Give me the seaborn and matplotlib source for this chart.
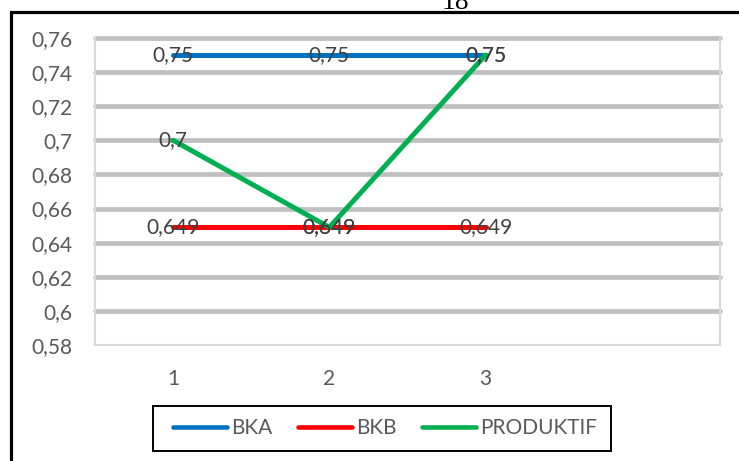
import numpy as np
import pandas as pd
import matplotlib
matplotlib.use("Agg")
import matplotlib.pyplot as plt
from matplotlib.lines import Line2D
from matplotlib.patches import Rectangle
import seaborn as sns

# Values per period
periods = ["1", "2", "3"]
bka = [0.75, 0.75, 0.75]
bkb = [0.649, 0.649, 0.649]
produktif = [0.70, 0.649, 0.75]

series_names = ["BKA", "BKB", "PRODUKTIF"]
series_colors = ["#0070C0", "#FF0000", "#00B050"]

y_ticks = [0.58, 0.60, 0.62, 0.64, 0.66, 0.68, 0.70, 0.72, 0.74, 0.76]
y_tick_labels = ["0,58", "0,6", "0,62", "0,64", "0,66", "0,68", "0,7", "0,72", "0,74", "0,76"]

sns.set_theme(style="white")
plt.rcParams["font.family"] = ["Lato", "DejaVu Sans"]

df = pd.DataFrame({
    "Periode": periods * 3,
    "Nilai": bka + bkb + produktif,
    "Seri": np.repeat(series_names, len(periods)),
})
palette = dict(zip(series_names, series_colors))

W, H = 739, 461
fig = plt.figure(figsize=(W / 100, H / 100), dpi=100)
fig.patch.set_facecolor("white")
ax = fig.add_axes([95 / W, 1 - 345 / H, 625 / W, 307 / H])

sns.lineplot(data=df, x="Periode", y="Nilai", hue="Seri", palette=palette,
             linewidth=3.6, solid_capstyle="round", ax=ax, legend=False,
             zorder=3)

ax.set_xlim(-0.5, 3.5)
ax.set_ylim(0.58, 0.76)
ax.set_yticks(y_ticks)
ax.set_yticklabels(y_tick_labels)
ax.set_xlabel("")
ax.set_ylabel("")

# Horizontal gridlines (thick grey bands)
for yv in y_ticks[1:]:
    ax.axhline(yv, color="#BFBFBF", linewidth=3.4, zorder=1, clip_on=False)

for side in ["left", "bottom", "right"]:
    ax.spines[side].set_color("#D9D9D9")
    ax.spines[side].set_linewidth(1.5)
ax.spines["top"].set_visible(False)

ax.tick_params(axis="both", length=0, labelsize=15, labelcolor="#595959")
ax.tick_params(axis="y", pad=16)
ax.tick_params(axis="x", pad=17)

# Data labels on every point
for name, vals in zip(series_names, [bka, bkb, produktif]):
    for i, v in enumerate(vals):
        ax.text(i, v, str(v).replace(".", ","), ha="center", va="center",
                fontsize=15, color="#404040", zorder=5)

# Legend with its own box
handles = [Line2D([], [], color=c, linewidth=3.3, solid_capstyle="round")
           for c in series_colors]
leg = fig.legend(handles, series_names, loc="center",
                 bbox_to_anchor=(385 / W, 1 - 428 / H), ncol=3, frameon=False,
                 fontsize=15, handlelength=2.6, handletextpad=0.2,
                 columnspacing=1.2)
for t in leg.get_texts():
    t.set_color("#595959")
fig.add_artist(Rectangle((153 / W, 1 - 451 / H), 458 / W, 45 / H,
                         transform=fig.transFigure, fill=False,
                         edgecolor="black", linewidth=1.4))

# Outer page frame and page number
fig.add_artist(Rectangle((11 / W, -0.2), 2.0, 1 - 11.5 / H + 0.2,
                         transform=fig.transFigure, fill=False,
                         edgecolor="black", linewidth=2.3, clip_on=False))
fig.text(455 / W, 1 - 9 / H, "18", ha="center", va="baseline",
         fontsize=20, family="Liberation Serif", color="black")

fig.savefig("out.png", dpi=100)
